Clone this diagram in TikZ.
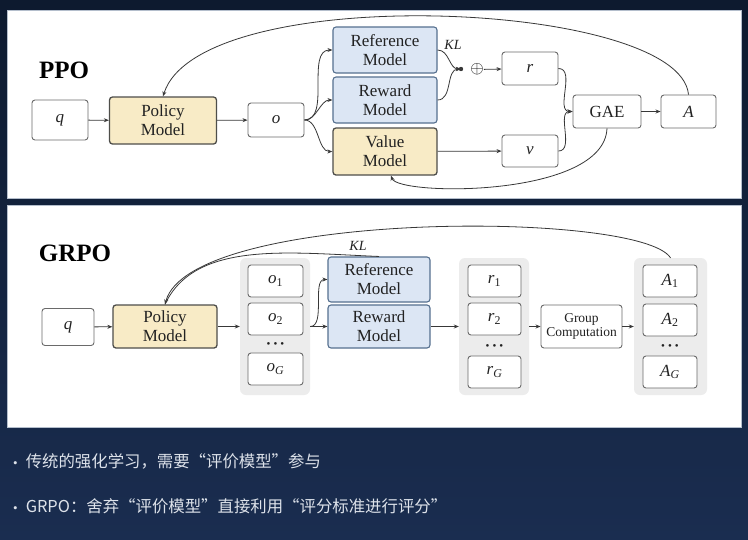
\documentclass[tikz,border=0pt]{standalone}
\usepackage{fontspec}
\setmainfont{Liberation Serif}
\newfontfamily\cjk{Noto Sans CJK SC}
\usetikzlibrary{arrows.meta,calc}
\definecolor{bgtop}{HTML}{0D1A2F}
\definecolor{bgbot}{HTML}{1A2D50}
\definecolor{panelline}{HTML}{B4BECC}
\definecolor{yfill}{HTML}{F8EBC6}
\definecolor{ydraw}{HTML}{4E4E4A}
\definecolor{bfill}{HTML}{DCE6F4}
\definecolor{bdraw}{HTML}{56708F}
\definecolor{boxline}{HTML}{6A6A6A}
\definecolor{colgray}{HTML}{ECECEC}
\definecolor{linecol}{HTML}{383838}
\definecolor{txtcol}{HTML}{222222}
\definecolor{bottxt}{HTML}{DDE2EA}
\newcommand\vsub[2]{\textit{#1}\textsubscript{#2}}
\newcommand\mfont{\fontsize{17}{19}\selectfont}
\newcommand\threedots{\textbullet\hspace{3pt}\textbullet\hspace{3pt}\textbullet}
\begin{document}
\begin{tikzpicture}[x=1pt,y=-1pt,
  sz/.style 2 args={minimum width=#1pt, minimum height=#2pt},
  lbox/.style={draw=boxline, line width=0.9pt, rounded corners=3pt, fill=white, inner sep=0pt, align=center, font=\mfont, text=txtcol},
  ymodel/.style={lbox, fill=yfill, draw=ydraw, line width=1.3pt},
  bmodel/.style={lbox, fill=bfill, draw=bdraw, line width=1.1pt},
  colbg/.style={fill=colgray, rounded corners=6pt, inner sep=0pt, draw=none},
  arr/.style={-{Stealth[length=5pt,width=4pt]}, line width=0.8pt, draw=linecol},
  ln/.style={line width=0.8pt, draw=linecol},
  title/.style={font=\fontsize{25}{27}\selectfont\bfseries, text=black},
  kl/.style={font=\fontsize{14}{16}\selectfont\itshape, text=txtcol},
  dots/.style={font=\fontsize{11}{11}\selectfont, text=txtcol, inner sep=0pt},
  bul/.style={anchor=west, font=\cjk\fontsize{16.4}{19}\selectfont, text=bottxt, inner sep=0pt},
]
\useasboundingbox (0,0) rectangle (748,539);
\shade[top color=bgtop, bottom color=bgbot] (0,0) rectangle (748,539);
% panels
\draw[fill=white, draw=panelline, line width=1pt] (7,10) rectangle (741,198);
\draw[fill=white, draw=panelline, line width=1pt] (7,205) rectangle (741,427);

% ================= PPO =================
\node[title] (ppo) at (64,70) {PPO};
\node[lbox, sz={56}{40}] (q) at (60,120) {\textit{q}};
\node[ymodel, sz={107}{47}] (pol) at (163,120.5) {Policy\\Model};
\node[lbox, sz={56}{34}] (o) at (276,120) {\textit{o}};
\node[bmodel, sz={104}{46}] (ref) at (385,50) {Reference\\Model};
\node[bmodel, sz={104}{46}] (rew) at (385,100) {Reward\\Model};
\node[ymodel, sz={104}{47}] (val) at (385,151.5) {Value\\Model};
\coordinate (join) at (461,69);
\node[inner sep=0pt, font=\fontsize{17}{17}\selectfont] (oplus) at (477,69.5) {$\oplus$};
\node[lbox, sz={56}{33}] (r) at (530,68.5) {\textit{r}};
\node[lbox, sz={56}{32}] (v) at (530,151) {\textit{v}};
\node[lbox, sz={68}{33}] (gae) at (607,111.5) {GAE};
\node[lbox, sz={55}{33}] (A) at (688.5,111.5) {\textit{A}};
\node[kl] (kl1) at (453,45) {KL};

\draw[arr] (q) -- (pol);
\draw[arr] (pol) -- (o);
\draw[arr] (o.east) to[out=0,in=180,looseness=0.9] (ref.west);
\draw[arr] (o.east) to[out=0,in=180,looseness=0.9] (rew.west);
\draw[arr] (o.east) to[out=0,in=180,looseness=0.9] (val.west);
\draw[arr] (ref.east) to[out=0,in=180] (join);
\draw[arr] (rew.east) to[out=0,in=180] (join);
\fill[linecol] (join) circle (2.2);
\draw[arr] (oplus) -- (r);
\draw[arr] (r.east) to[out=0,in=180] (gae.west);
\draw[arr] (v.east) to[out=0,in=180] (gae.west);
\draw[arr] (gae) -- (A);
\draw[arr] (val) -- (v);
\draw[arr] (A.north) .. controls (680,0) and (200,-20) .. (pol.north);
\draw[arr] (gae.south) .. controls (604,198) and (398,196) .. ([xshift=6pt]val.south);

% ================= GRPO =================
\node[title] (grpo) at (75,253) {GRPO};
\node[colbg, sz={70}{137}] (ocol) at (275,326.5) {};
\node[colbg, sz={70}{137}] (rcol) at (494,326.5) {};
\node[colbg, sz={73}{137}] (acol) at (670.5,326.5) {};
\node[lbox, sz={52}{37}] (q2) at (68,327) {\textit{q}};
\node[ymodel, sz={104}{43}] (pol2) at (165,326.5) {Policy\\Model};
\node[lbox, sz={55}{32}] (o1) at (275.5,281) {\vsub{o}{1}};
\node[lbox, sz={55}{32}] (o2) at (275.5,319) {\vsub{o}{2}};
\node[dots] (od) at (275.5,345) {\threedots};
\node[lbox, sz={55}{32}] (oG) at (275.5,369) {\vsub{o}{\textit{G}}};
\node[bmodel, sz={102}{45}] (ref2) at (379,279.5) {Reference\\Model};
\node[bmodel, sz={102}{43}] (rew2) at (379,326.5) {Reward\\Model};
\node[lbox, sz={53}{32}] (r1) at (494.5,281) {\vsub{r}{1}};
\node[lbox, sz={53}{32}] (r2) at (494.5,319) {\vsub{r}{2}};
\node[dots] (rd) at (494.5,347) {\threedots};
\node[lbox, sz={53}{32}] (rG) at (494.5,372) {\vsub{r}{\textit{G}}};
\node[lbox, sz={81}{43}, font=\fontsize{13.5}{14}\selectfont] (gc) at (581.5,326.5) {Group\\Computation};
\node[lbox, sz={54}{32}] (A1) at (670,281) {\vsub{A}{1}};
\node[lbox, sz={54}{32}] (A2) at (670,320) {\vsub{A}{2}};
\node[dots] (ad) at (670,347) {\threedots};
\node[lbox, sz={54}{32}] (AG) at (670,372) {\vsub{A}{\textit{G}}};
\node[kl] (kl2) at (358,246) {KL};

\draw[arr] (q2) -- (pol2);
\draw[arr] (pol2.east) -- (ocol.west);
\draw[arr] (ocol.east) -- (rew2.west);
\draw[arr] (ocol.east) to[out=0,in=180,looseness=0.8] (ref2.west);
\draw[arr] (rew2.east) -- (rcol.west);
\draw[arr] (rcol.east) -- (gc.west);
\draw[arr] (gc.east) -- (acol.west);
\draw[arr] (acol.north) .. controls (640,210) and (190,210) .. (pol2.north);
\draw[ln] (ref2.north) .. controls (290,253) and (195,240) .. (pol2.north);

% ================= bottom text =================
\node[bul] (t1) at (13,461) {{\rmfamily\fontsize{13}{13}\selectfont •}\hspace{8pt}传统的强化学习，需要“评价模型”参与};
\node[bul] (t2) at (13,506) {{\rmfamily\fontsize{13}{13}\selectfont •}\hspace{8pt}GRPO：舍弃“评价模型”直接利用“评分标准进行评分”};
\end{tikzpicture}
\end{document}
